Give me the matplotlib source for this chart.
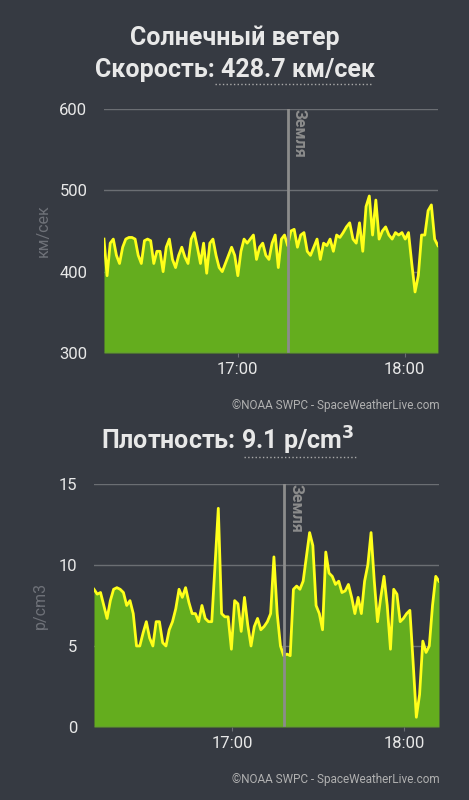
import numpy as np
import matplotlib
matplotlib.use("Agg")
import matplotlib.pyplot as plt
import matplotlib.dates as mdates
from datetime import datetime, timedelta

plt.rcParams['font.family'] = ['Roboto', 'DejaVu Sans']

speed_before = [440,395,435,440,420,410,430,440,442,442,440,420,410,438,440,438,410,425,425,400,430,440,415,405,420,430,418,410,440,448,430,410,435,398,435,440,420,405,400,410,420,430,420,395,425,440,435,440,445,415,430,435,420,415,435,445,405,440,445]
speed_after = [432,450,452,430,445,448,425,420,430,440,415,435,432,440,425,445,442,448,455,460,440,435,460,425,480,493,445,488,440,450,455,445,440,448,445,448,440,448,410,375,395,445,445,475,482,440,432]
dens_before = [8.5,8.2,8.3,7.5,6.7,7.8,8.5,8.6,8.5,8.3,7.5,7.8,7.0,5.0,5.0,5.8,6.5,5.5,5.0,6.5,6.5,5.2,5.0,6.0,6.5,7.3,8.5,8.0,8.6,7.7,7.0,7.0,6.5,7.5,6.7,6.5,6.5,10.0,13.5,7.0,6.8,6.8,4.8,7.8,7.6,5.9,8.0,6.3,5.0,6.2,6.7,6.0,6.2,6.5,7.0,10.5,7.0,5.0]
dens_after = [4.4,4.5,4.4,8.5,8.7,8.5,9.0,10.5,12.0,11.2,7.5,7.0,6.0,10.8,9.5,9.3,8.8,9.0,8.3,8.4,8.8,8.0,7.0,8.0,7.0,9.0,10.0,12.0,9.0,6.5,8.0,9.3,7.5,4.8,8.5,8.2,6.5,6.7,7.0,7.2,4.0,0.6,2.0,5.3,4.6,5.0,7.5,9.3,9.0]

start = datetime(2024, 1, 1, 16, 12)
earth = datetime(2024, 1, 1, 17, 18)
end = datetime(2024, 1, 1, 18, 12)

def times(nb, na):
    t1 = [start + (earth - start) * i / nb for i in range(nb)]
    t2 = [earth + (end - earth) * i / (na - 1) for i in range(na)]
    return t1 + t2

BG = '#363a42'
GRID = '#6b6e73'
FILL = '#64ad1e'
LINE = '#ffff1a'
TXT = '#e8e8e8'

fig = plt.figure(figsize=(4.69, 8.0), dpi=100, facecolor=BG)

def panel(rect, t, v, ylim, yticks, ylabel, xl):
    ax = fig.add_axes(rect, facecolor=BG)
    ax.fill_between(t, ylim[0], v, color=FILL, lw=0)
    ax.plot(t, v, color=LINE, lw=2)
    ax.axvline(earth, color='#8c8c8c', lw=2)
    ax.text(earth + timedelta(minutes=1.5), ylim[1], 'Земля', rotation=-90, color='#8c8c8c',
            fontsize=11.5, fontweight='bold', va='top', ha='left')
    ax.set_ylim(*ylim)
    ax.set_xlim(start, end)
    ax.set_yticks(yticks)
    for y in yticks:
        ax.axhline(y, color=GRID, lw=1, zorder=0.5 if y != ylim[0] else 3)
    ax.xaxis.set_major_locator(mdates.HourLocator())
    ax.xaxis.set_major_formatter(mdates.DateFormatter('%H:%M'))
    ax.tick_params(colors=TXT, labelsize=12, length=3, width=0.8)
    ax.tick_params(axis='y', length=0, pad=12)
    ax.tick_params(axis='x', color=GRID)
    for s in ax.spines.values():
        s.set_visible(False)
    ax.set_ylabel(ylabel, color='#6e7178', fontsize=11.5, labelpad=xl)
    return ax

ax1 = panel([0.2217, 0.5588, 0.712, 0.305], times(len(speed_before), len(speed_after)),
            speed_before + speed_after, (300, 600), [300, 400, 500, 600], 'км/сек', 6)
ax2 = panel([0.2004, 0.0913, 0.7356, 0.3037], times(len(dens_before), len(dens_after)),
            dens_before + dens_after, (0, 15), [0, 5, 10, 15], 'p/cm3', 8)

fig.text(0.5, 1 - 38/800, 'Солнечный ветер', ha='center', va='center', color=TXT, fontsize=18, fontweight='bold')
fig.text(0.5, 1 - 70/800, 'Скорость: 428.7 км/сек', ha='center', va='center', color=TXT, fontsize=18, fontweight='bold')
fig.add_artist(plt.Line2D([215/469, 372/469], [1-84/800, 1-84/800], color='#aaaaaa', lw=1, ls=':'))
fig.text(228/469, 1 - 441/800, 'Плотность: 9.1 p/cm$^\\mathbf{3}$', ha='center', va='center', color=TXT, fontsize=18, fontweight='bold')
fig.add_artist(plt.Line2D([244/469, 358/469], [1-457/800, 1-457/800], color='#aaaaaa', lw=1, ls=':'))
fig.text(440/469, 1 - 405/800, '©NOAA SWPC - SpaceWeatherLive.com', ha='right', va='center', color='#b0b0b0', fontsize=8.5)
fig.text(440/469, 1 - 779/800, '©NOAA SWPC - SpaceWeatherLive.com', ha='right', va='center', color='#b0b0b0', fontsize=8.5)

fig.savefig('out.png', dpi=100, facecolor=BG)
